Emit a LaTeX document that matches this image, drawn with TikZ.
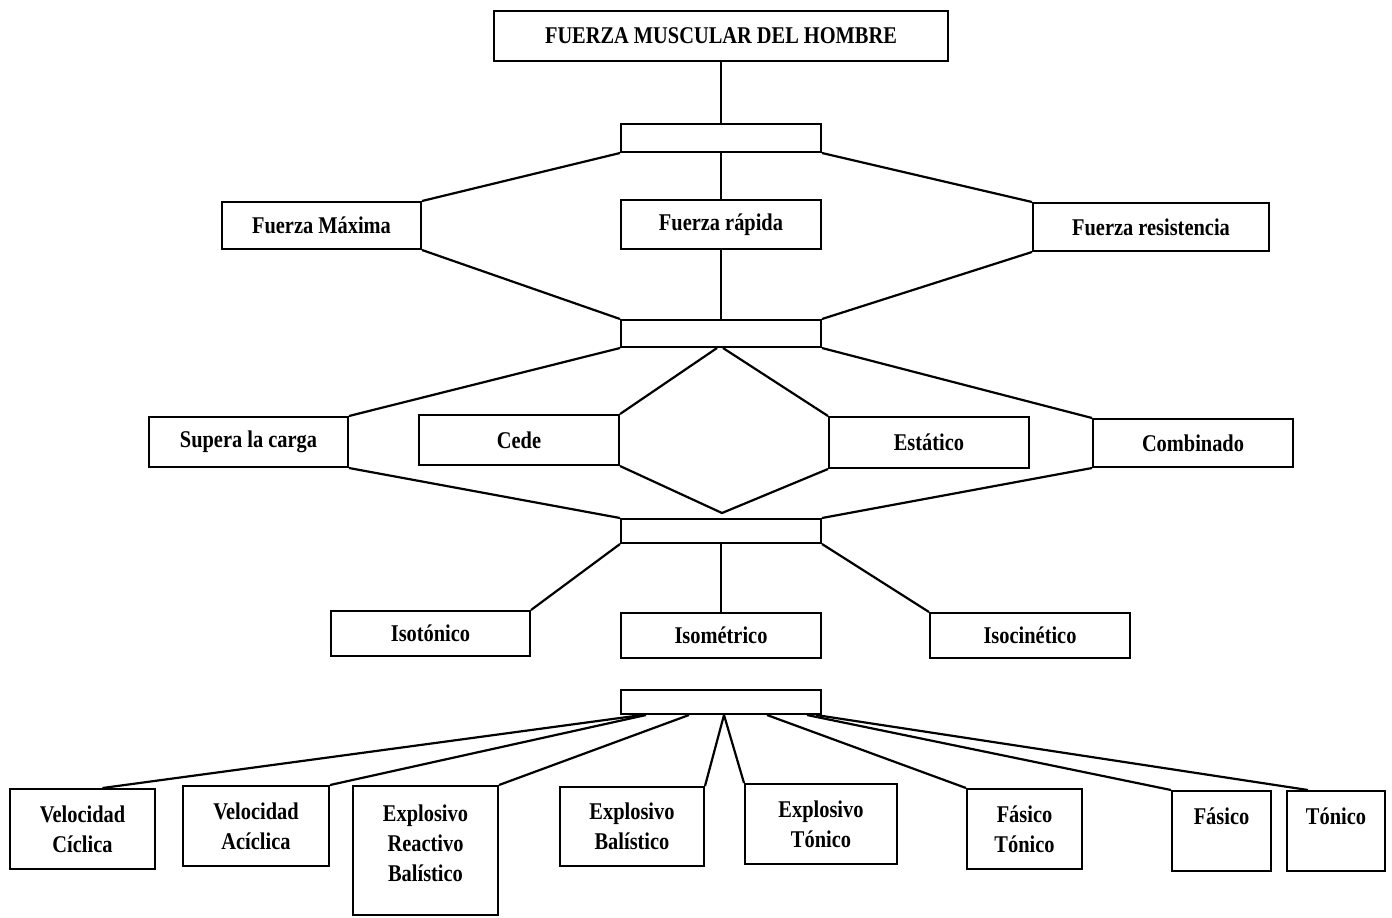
\documentclass[tikz,border=0pt]{standalone}
\usepackage{fontspec}
\setmainfont{Liberation Serif}[FakeStretch=0.85]
\usepackage{tikz}

\begin{document}
\begin{tikzpicture}[x=0.5pt,y=-0.5pt,font=\fontsize{12}{15}\selectfont\bfseries]

	\tikzstyle{bx}=[draw,line width=1pt,inner sep=0pt,align=center]
	\tikzstyle{empty}=[bx,minimum width=100pt]
	\tikzstyle{link}=[line width=1.1pt]

	\useasboundingbox (0,0) rectangle (1392,917);

	% top
	\node[bx,minimum width=227pt,minimum height=25pt] (top) at (721,36) {FUERZA MUSCULAR DEL HOMBRE};
	\node[empty,minimum height=14pt] (e1) at (721,138) {};

	\node[bx,minimum width=99.5pt,minimum height=23.5pt] (fmax) at (321.5,225.5) {Fuerza Máxima};
	\node[bx,minimum width=100pt,minimum height=24.5pt] (frap) at (721,224.5) {Fuerza rápida};
	\node[bx,minimum width=118pt,minimum height=24pt] (fres) at (1151,227) {Fuerza resistencia};
	\node[empty,minimum height=13.5pt] (e2) at (721,333.5) {};

	\node[bx,minimum width=99.5pt,minimum height=25pt] (sup) at (248.5,442) {Supera la carga};
	\node[bx,minimum width=100pt,minimum height=25pt] (cede) at (519,440) {Cede};
	\node[bx,minimum width=100pt,minimum height=25.5pt] (est) at (929,442.5) {Estático};
	\node[bx,minimum width=100pt,minimum height=24pt] (comb) at (1193,443) {Combinado};
	\node[empty,minimum height=12pt] (e3) at (721,531) {};
	\coordinate (apex) at (722,513);

	\node[bx,minimum width=99.5pt,minimum height=22.5pt] (isot) at (430.5,633.5) {Isotónico};
	\node[bx,minimum width=100pt,minimum height=22.5pt] (isom) at (721,635.5) {Isométrico};
	\node[bx,minimum width=100pt,minimum height=22.5pt] (isoc) at (1030,635.5) {Isocinético};
	\node[empty,minimum height=12pt] (e4) at (721,702) {};

	% bottom row
	\node[bx,minimum width=72.5pt,minimum height=40pt] (vc) at (82.5,829) {Velocidad\\Cíclica};
	\node[bx,minimum width=73pt,minimum height=40pt] (va) at (256,826) {Velocidad\\Acíclica};
	\node[bx,minimum width=72.5pt,minimum height=64.5pt] (erb) at (425.5,850.5) {Explosivo\\Reactivo\\Balístico\\[-8pt]\mbox{}};
	\node[bx,minimum width=72pt,minimum height=39.5pt] (eb) at (632,826.5) {Explosivo\\Balístico};
	\node[bx,minimum width=76pt,minimum height=40pt] (et) at (821,824) {Explosivo\\Tónico};
	\node[bx,minimum width=57.5pt,minimum height=40pt] (ft) at (1024.5,829) {Fásico\\Tónico};
	\node[bx,minimum width=49.5pt,minimum height=40pt] (fa) at (1221.5,831) {Fásico\\\mbox{}};
	\node[bx,minimum width=49pt,minimum height=40pt] (to) at (1336,831) {Tónico\\\mbox{}};

	% links
	\draw[link] (top.south) -- (e1.north);
	\draw[link] (e1.south west) -- (fmax.north east);
	\draw[link] (e1.south) -- (frap.north);
	\draw[link] (e1.south east) -- (fres.north west);
	\draw[link] (fmax.south east) -- (e2.north west);
	\draw[link] (frap.south) -- (e2.north);
	\draw[link] (fres.south west) -- (e2.north east);
%
	\draw[link] (e2.south west) -- (sup.north east);
	\draw[link] ([xshift=-2pt]e2.south) -- (cede.north east);
	\draw[link] ([xshift=1pt]e2.south) -- (est.north west);
	\draw[link] (e2.south east) -- (comb.north west);
	\draw[link] (sup.south east) -- (e3.north west);
	\draw[link] (cede.south east) -- (apex) -- (est.south west);
	\draw[link] (comb.south west) -- (e3.north east);
%
	\draw[link] (e3.south west) -- (isot.north east);
	\draw[link] (e3.south) -- (isom.north);
	\draw[link] (e3.south east) -- (isoc.north west);
%
	\draw[link] ([xshift=11pt]e4.south west) -- ([xshift=10pt]vc.north);
	\draw[link] ([xshift=13pt]e4.south west) -- (va.north east);
	\draw[link] ([xshift=34.5pt]e4.south west) -- (erb.north east);
	\draw[link] ([xshift=1.5pt]e4.south) -- (eb.north east);
	\draw[link] ([xshift=1.5pt]e4.south) -- (et.north west);
	\draw[link] ([xshift=-27.5pt]e4.south east) -- (ft.north west);
	\draw[link] ([xshift=-7.5pt]e4.south east) -- (fa.north west);
	\draw[link] ([xshift=-3pt]e4.south east) -- ([xshift=11pt]to.north west);
\end{tikzpicture}
\end{document}
